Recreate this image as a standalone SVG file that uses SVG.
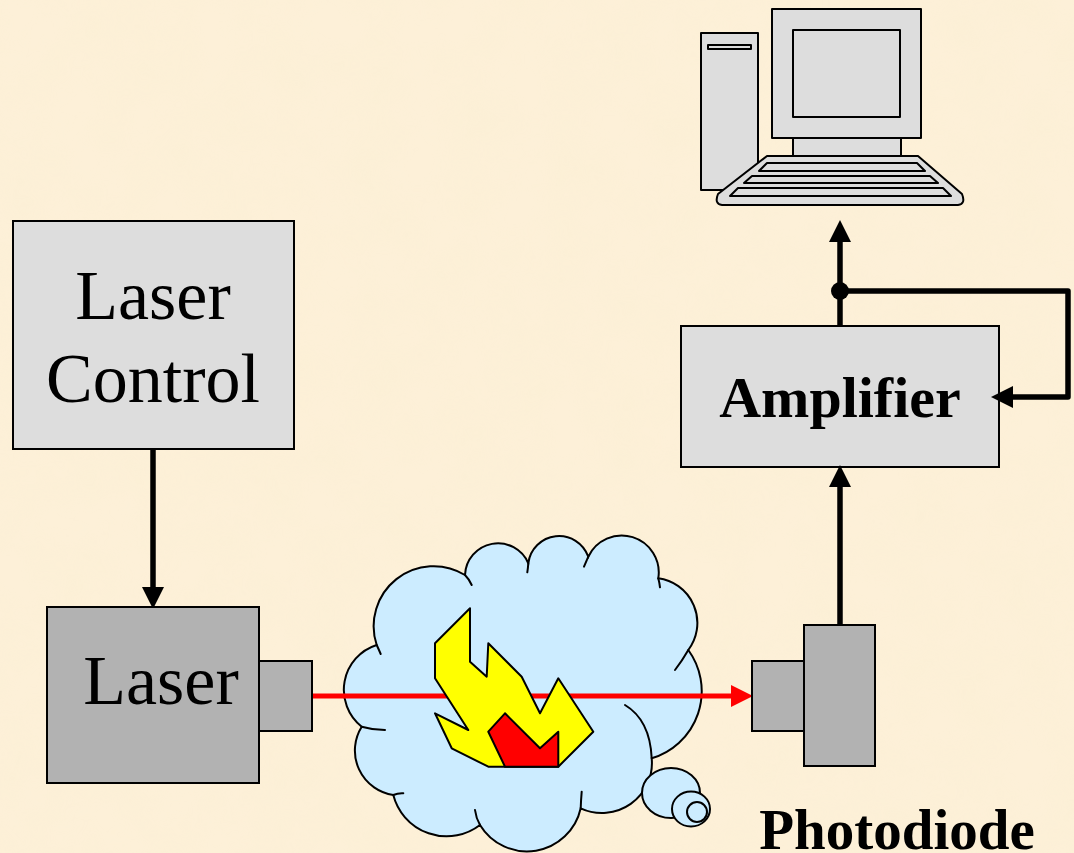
<svg xmlns="http://www.w3.org/2000/svg" width="1074" height="853" viewBox="0 0 1074 853">
<defs>
<style>
.box{stroke:#000;stroke-width:2}
.light{fill:#DDDDDD}
.dark{fill:#B2B2B2}
.wire{fill:none;stroke:#000;stroke-width:5.5}
.serif{font-family:"Liberation Serif","Times New Roman",serif;fill:#000}
.pc{fill:#DDDDDD;stroke:#000;stroke-width:2;stroke-linejoin:round}
.cl{fill:none;stroke:#000;stroke-width:2;stroke-linecap:round}
</style>
<filter id="paper" x="0" y="0" width="100%" height="100%">
<feTurbulence type="fractalNoise" baseFrequency="0.02" numOctaves="3" seed="4" result="n"/>
<feColorMatrix in="n" type="matrix" values="0 0 0 0 0.93  0 0 0 0 0.85  0 0 0 0 0.62  0 0 0 0.9 -0.25"/>
</filter>
<marker id="ah" markerUnits="userSpaceOnUse" markerWidth="22" markerHeight="22" refX="0" refY="10" orient="auto" viewBox="0 0 20 20">
<path d="M0,0 L20,10 L0,20 z" fill="#000"/>
</marker>
<marker id="ahr" markerUnits="userSpaceOnUse" markerWidth="22" markerHeight="22" refX="0" refY="10" orient="auto" viewBox="0 0 20 20">
<path d="M0,0 L20,10 L0,20 z" fill="#FF0000"/>
</marker>
</defs>
<rect x="0" y="0" width="1074" height="853" fill="#FDF0D8"/>
<rect x="0" y="0" width="1074" height="853" filter="url(#paper)" opacity="0.35"/>

<g id="computer">
<rect class="pc" x="701" y="33" width="57" height="157"/>
<rect class="pc" x="708" y="45" width="43" height="4"/>
<rect class="pc" x="793" y="136" width="108" height="21"/>
<rect class="pc" x="772" y="9" width="149" height="129"/>
<rect class="pc" x="793" y="30" width="107" height="87"/>
<path class="pc" d="M767,156 L918,156 L962,194 Q966,204 958,205 L722,205 Q714,204 718,194 Z"/>
<path class="pc" d="M767,163 L917,163 L925,171 L759,171 Z"/>
<path class="pc" d="M752,176 L930,176 L938,183 L744,183 Z"/>
<path class="pc" d="M738,188 L943,188 L951,196 L730,196 Z"/>
</g>

<g id="laser-control">
<rect class="box light" x="13" y="221" width="281" height="228"/>
<text class="serif" x="153" y="319" font-size="70" text-anchor="middle">Laser</text>
<text class="serif" x="153" y="402" font-size="70" text-anchor="middle">Control</text>
</g>

<g id="amplifier">
<rect class="box light" x="681" y="326" width="318" height="141"/>
<text class="serif" x="840" y="417" font-size="58" font-weight="bold" text-anchor="middle">Amplifier</text>
</g>

<g id="cloud">
<path fill="#CCECFF" stroke="#000" stroke-width="2" d="M376.7,645 A60,60 0 0 1 465,575 A33,33 0 0 1 528.3,563.3 A31,31 0 0 1 588.3,556.7 A37,37 0 0 1 658.3,578.3 A45,45 0 0 1 688.3,650 A70,70 0 0 1 651.7,758.3 A50,50 0 0 1 580.7,808.3 A55,55 0 0 1 480,825 A55,55 0 0 1 393.3,795 A45,45 0 0 1 361.7,726.7 A47,47 0 0 1 376.7,645 Z"/>
<path class="cl" d="M376.7,645 Q379,650 380.7,654"/>
<path class="cl" d="M465,575 Q469,579 471.7,585"/>
<path class="cl" d="M528.3,563.3 Q528,568 527.3,572.3"/>
<path class="cl" d="M588.3,556.7 Q586,562 584,566.7"/>
<path class="cl" d="M658.3,578.3 Q659.5,583 660,587.3"/>
<path class="cl" d="M688.3,650 Q682,661 675,670"/>
<path class="cl" d="M625,705 Q650,720 651.7,758.3"/>
<path class="cl" d="M580.7,808.3 Q581,800 581.7,791.7"/>
<path class="cl" d="M480,825 Q476,818 475,810"/>
<path class="cl" d="M393.3,795 Q398,793 403.3,793.3"/>
<path class="cl" d="M361.7,726.7 Q373,730 385,730"/>
<ellipse cx="671" cy="793" rx="29" ry="25" fill="#CCECFF" stroke="#000" stroke-width="2"/>
<ellipse cx="691" cy="809" rx="19" ry="17.5" fill="#CCECFF" stroke="#000" stroke-width="2"/>
<ellipse cx="697" cy="812" rx="10" ry="10" fill="#CCECFF" stroke="#000" stroke-width="2"/>
</g>

<g id="connectors">
<path class="wire" d="M153,449 V587" marker-end="url(#ah)"/>
<path class="wire" d="M840,625 V487" marker-end="url(#ah)"/>
<path class="wire" d="M840,326 V242" marker-end="url(#ah)"/>
<path class="wire" d="M840,291 H1068 V397 H1013" stroke-linejoin="round" marker-end="url(#ah)"/>
<circle cx="840" cy="291" r="9" fill="#000"/>
<path d="M312,696 H731" fill="none" stroke="#FF0000" stroke-width="5" marker-end="url(#ahr)"/>
</g>

<g id="flame">
<polygon fill="#FFFF00" stroke="#000" stroke-width="2" stroke-linejoin="round" points="470,608.3 470,661.7 486.7,676.7 488.3,643.3 521.7,676.7 540,713.3 558.3,678.3 593.3,731.7 558.3,766.7 488.3,766.7 451.7,748.3 435,713.3 468.3,730 435,678.3 435,643.3"/>
<polygon fill="#FF0000" stroke="#000" stroke-width="2" stroke-linejoin="round" points="505,713.3 488.3,731.7 505,766.7 558.3,766.7 558.3,731.7 540,748.3"/>
</g>

<g id="laser">
<rect class="box dark" x="47" y="607" width="212" height="176"/>
<rect class="box dark" x="259" y="661" width="53" height="70"/>
<text class="serif" x="161" y="704" font-size="70" text-anchor="middle">Laser</text>
</g>

<g id="photodiode">
<rect class="box dark" x="752" y="661" width="52" height="70"/>
<rect class="box dark" x="804" y="625" width="71" height="141"/>
<text class="serif" x="897" y="849" font-size="57" font-weight="bold" text-anchor="middle">Photodiode</text>
</g>
</svg>
